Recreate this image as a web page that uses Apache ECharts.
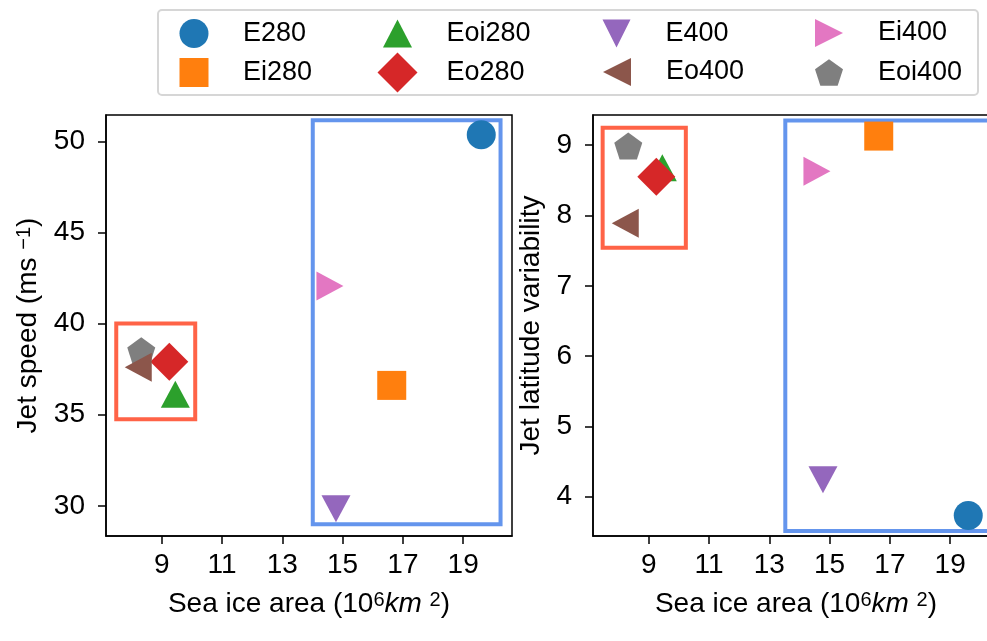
<!DOCTYPE html>
<html><head><meta charset="utf-8">
<script src="https://cdn.jsdelivr.net/npm/echarts@6/dist/echarts.min.js"></script>
<style>html,body{margin:0;padding:0;background:#fff}#chart{width:987px;height:641px}</style>
</head><body><div id="chart"></div>
<script>
// ---- data ----
const seriesNames = ['E280', 'Ei280', 'Eoi280', 'Eo280', 'E400', 'Eo400', 'Ei400', 'Eoi400'];
const seaIceArea  = [19.60, 16.63, 9.45, 9.25, 14.78, 8.22, 14.58, 8.32];
const jetSpeed    = [50.36, 36.61, 36.12, 37.91, 29.84, 37.60, 42.06, 38.44];
const jetLatVar   = [3.73, 9.13, 8.68, 8.55, 4.24, 7.89, 8.63, 8.97];
const xTicks      = [9, 11, 13, 15, 17, 19];
const speedTicks  = [30, 35, 40, 45, 50];
const latTicks    = [4, 5, 6, 7, 8, 9];
// annotation boxes (data coordinates): [[x1, y1], [x2, y2]]
const speedRedBox  = [[7.49, 34.75], [10.11, 40.0]];
const speedBlueBox = [[14.01, 29.0], [20.24, 51.15]];
const latRedBox    = [[7.47, 7.54], [10.23, 9.25]];
const latBlueBox   = [[13.53, 3.51], [20.40, 9.35]];

// ---- styles ----
const FONT = 'Liberation Sans';
const FS = 28;
const LFS = 27;
const colors = ['#1f77b4', '#ff7f0e', '#2ca02c', '#d62728', '#9467bd', '#8c564b', '#e377c2', '#7f7f7f'];
const PENT = 'path://M0,-1L0.951,-0.309L0.588,0.809L-0.588,0.809L-0.951,-0.309Z';
const symbols = ['circle', 'rect', 'triangle', 'diamond',
  'path://M-1,-1L1,-1L0,1Z', 'path://M1,-1L-1,0L1,1Z', 'path://M-1,-1L1,0L-1,1Z', PENT];
const symSizes = [[29, 29], [29, 29], [29, 27], [38, 38], [29, 27], [27, 29], [27, 29], [28, 27]];
const symOffsets = [[0, 0], [0, 0], [0, 0], [0, 0], [0, 0], [0, 0], [0, 0], [0, -1.4]];
const legendIconSizes = [[29, 29], [29, 29], [29, 28], [40, 40], [29, 28], [28, 29], [28, 29], [28, 27]];
const legendCenters = [[194, 33], [194, 72], [397.5, 33], [397.5, 72], [617, 33], [617, 72], [829, 33], [829, 72]];
const RED = '#ff6347', BLUE = '#6495ed';
const drawOrder = [0, 1, 2, 3, 4, 6, 7, 5];

const chart = echarts.init(document.getElementById('chart'), null, {renderer: 'canvas'});

function box(b, color) {
  return [{coord: b[0], itemStyle: {color: 'rgba(0,0,0,0)', borderColor: color, borderWidth: 4}}, {coord: b[1]}];
}

const series = [];
[jetSpeed, jetLatVar].forEach((ys, gi) => {
  drawOrder.forEach((i, k) => {
    const s = {
      type: 'scatter', name: seriesNames[i], xAxisIndex: gi, yAxisIndex: gi,
      symbol: symbols[i], symbolSize: symSizes[i], symbolOffset: symOffsets[i],
      itemStyle: {color: colors[i], opacity: 1},
      data: [[seaIceArea[i], ys[i]]], z: 3 + k, silent: true
    };
    if (k === 0) {
      s.markArea = {
        silent: true, z: 1,
        data: gi === 0 ? [box(speedRedBox, RED), box(speedBlueBox, BLUE)]
                       : [box(latRedBox, RED), box(latBlueBox, BLUE)]
      };
    }
    series.push(s);
  });
});

const legends = seriesNames.map((n, i) => {
  const [w, h] = legendIconSizes[i];
  const [cx, cy] = legendCenters[i];
  return {
    data: [{name: n, icon: symbols[i]}],
    left: cx - w / 2, top: cy - h / 2 + 0.5,
    itemWidth: w, itemHeight: h, padding: 0, itemGap: 0,
    textStyle: {fontFamily: FONT, fontSize: LFS, color: '#000', lineHeight: 20,
      padding: [3, 0, 0, 49 - w / 2 - 5]}
  };
});

const richBase = {
  n: {fontFamily: FONT, fontSize: FS, color: '#000', lineHeight: 28},
  i: {fontFamily: FONT, fontSize: FS, fontStyle: 'italic', color: '#000', lineHeight: 28},
  s: {fontFamily: FONT, fontSize: 20, color: '#000', verticalAlign: 'top', lineHeight: 17}
};

function xAxisDef(gi) {
  return {
    type: 'value', gridIndex: gi, min: 7.15, max: 20.62,
    name: '{n|Sea ice area (10}{s|6}{i|km}{n| }{s|2}{n|)}',
    nameLocation: 'middle', nameGap: 54,
    nameTextStyle: {fontFamily: FONT, fontSize: FS, color: '#000', rich: richBase},
    axisLine: {show: true, lineStyle: {color: '#000', width: 1.5}},
    axisTick: {show: true, customValues: xTicks, length: 8, lineStyle: {color: '#000', width: 1.5}},
    axisLabel: {customValues: xTicks, margin: 15, fontFamily: FONT, fontSize: FS, color: '#000'},
    splitLine: {show: false}
  };
}
function yAxisDef(gi, mn, mx, ticks, name, gap) {
  return {
    type: 'value', gridIndex: gi, min: mn, max: mx,
    name: name, nameLocation: 'middle', nameGap: gap,
    nameTextStyle: {fontFamily: FONT, fontSize: FS, color: '#000', rich: richBase},
    axisLine: {show: true, lineStyle: {color: '#000', width: 1.5}},
    axisTick: {show: true, customValues: ticks, length: 8, lineStyle: {color: '#000', width: 1.5}},
    axisLabel: {customValues: ticks, margin: 21, fontFamily: FONT, fontSize: FS, color: '#000'},
    splitLine: {show: false}
  };
}

chart.setOption({
  backgroundColor: '#fff',
  animation: false,
  grid: [
    {left: 106, top: 115, width: 406, height: 421, show: true, borderColor: '#000', borderWidth: 1.5,
     backgroundColor: 'transparent', outerBoundsMode: 'none'},
    {left: 593, top: 115, width: 406, height: 421, show: true, borderColor: '#000', borderWidth: 1.5,
     backgroundColor: 'transparent', outerBoundsMode: 'none'}
  ],
  xAxis: [xAxisDef(0), xAxisDef(1)],
  yAxis: [
    yAxisDef(0, 28.35, 51.44, speedTicks, '{n|Jet speed (ms }{s|−1}{n|)}', 64),
    yAxisDef(1, 3.44, 9.43, latTicks, '{n|Jet latitude variability}', 48)
  ],
  legend: legends,
  graphic: [{
    type: 'rect', shape: {x: 158, y: 10, width: 820, height: 85, r: 4},
    style: {fill: 'rgba(255,255,255,0.8)', stroke: '#d6d6d6', lineWidth: 2}, z: -1, silent: true
  }],
  series: series
});
</script></body></html>
